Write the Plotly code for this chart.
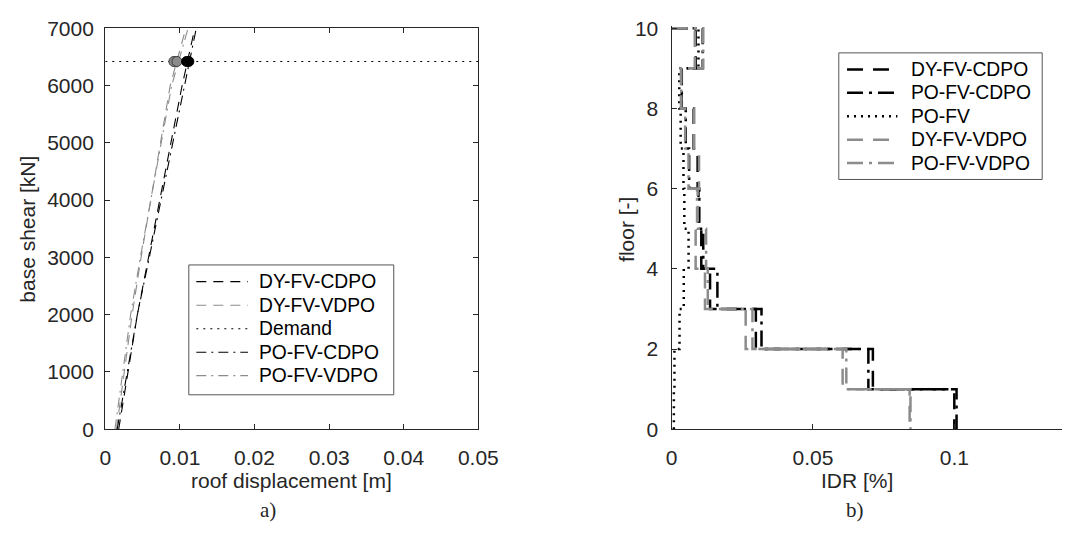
import plotly.graph_objects as go

# ---------------- pushover curves (panel a) ----------------
shear_kN = [0, 1000, 2000, 3000, 4000, 5000, 6000, 7000]
disp_dy_fv_cdpo = [0.0018, 0.0030, 0.0043, 0.0058, 0.0073, 0.0088, 0.0103, 0.0120]
disp_po_fv_cdpo = [0.0016, 0.0029, 0.0043, 0.0059, 0.0075, 0.0091, 0.0106, 0.0122]
disp_dy_fv_vdpo = [0.0015, 0.0025, 0.0036, 0.0048, 0.0061, 0.0075, 0.0087, 0.0108]
disp_po_fv_vdpo = [0.0013, 0.0023, 0.0034, 0.0047, 0.0061, 0.0076, 0.0089, 0.0111]

demand_kN = 6420
demand_disp = [0.0, 0.05]
target_disp_vdpo = [0.0092, 0.0096]
target_disp_cdpo = [0.0109, 0.0112]

# ---------------- inter-storey drift profiles (panel b) ----------------
floors = list(range(0, 11))
idr_dy_fv_cdpo = [0.1000, 0.0712, 0.0298, 0.0136, 0.0105, 0.0095, 0.0092, 0.0078, 0.0035, 0.0085]
idr_po_fv_cdpo = [0.1008, 0.0696, 0.0318, 0.0162, 0.0112, 0.0098, 0.0062, 0.0050, 0.0036, 0.0110]
idr_po_fv = [0.0008, 0.0010, 0.0028, 0.0043, 0.0060, 0.0045, 0.0042, 0.0032, 0.0027, 0.0095]
idr_dy_fv_vdpo = [0.0842, 0.0605, 0.0262, 0.0118, 0.0085, 0.0092, 0.0097, 0.0080, 0.0033, 0.0082]
idr_po_fv_vdpo = [0.0845, 0.0618, 0.0286, 0.0128, 0.0122, 0.0090, 0.0060, 0.0048, 0.0034, 0.0112]

BLACK = "#000000"
GREY = "#8c8c8c"
INK = "#262626"
FONT = "Liberation Sans, Arial, sans-serif"
SERIF = "Liberation Serif, Times New Roman, serif"

W = 1082.0
H = 535.0


def px_x(v):
    return v / W


def px_y(v):
    return 1 - v / H


def stairs(idr):
    """Storey drifts as a staircase from the roof down to the base."""
    xs, ys = [0.0], [floors[-1]]
    for k in range(len(idr) - 1, -1, -1):
        xs += [idr[k], idr[k]]
        ys += [floors[k + 1], floors[k]]
    return xs, ys


fig = go.Figure()

# panel a: capacity curves and demand (legend order)
left = [
    ("DY-FV-CDPO", disp_dy_fv_cdpo, BLACK, "10px,7px"),
    ("DY-FV-VDPO", disp_dy_fv_vdpo, GREY, "10px,7px"),
    ("Demand", None, BLACK, "2px,5px"),
    ("PO-FV-CDPO", disp_po_fv_cdpo, BLACK, "10px,5px,2px,5px"),
    ("PO-FV-VDPO", disp_po_fv_vdpo, GREY, "10px,5px,2px,5px"),
]
for name, disp, color, dash in left:
    if disp is None:
        xs, ys = demand_disp, [demand_kN, demand_kN]
    else:
        xs, ys = disp, shear_kN
    fig.add_trace(go.Scatter(
        x=xs, y=ys, mode="lines", name=name, showlegend=False,
        line=dict(color=color, width=1.1, dash=dash),
        xaxis="x", yaxis="y",
    ))

fig.add_trace(go.Scatter(
    x=target_disp_vdpo, y=[demand_kN] * len(target_disp_vdpo), mode="markers",
    marker=dict(size=10, color=GREY, line=dict(color="#3a3a3a", width=1)),
    showlegend=False, cliponaxis=False, xaxis="x", yaxis="y",
))
fig.add_trace(go.Scatter(
    x=target_disp_cdpo, y=[demand_kN] * len(target_disp_cdpo), mode="markers",
    marker=dict(size=10, color=BLACK, line=dict(color=BLACK, width=1)),
    showlegend=False, cliponaxis=False, xaxis="x", yaxis="y",
))

# panel b: drift profiles (legend order)
right = [
    ("DY-FV-CDPO", idr_dy_fv_cdpo, BLACK, "16px,10px"),
    ("PO-FV-CDPO", idr_po_fv_cdpo, BLACK, "16px,6px,3px,6px"),
    ("PO-FV", idr_po_fv, BLACK, "2px,5px"),
    ("DY-FV-VDPO", idr_dy_fv_vdpo, GREY, "16px,10px"),
    ("PO-FV-VDPO", idr_po_fv_vdpo, GREY, "16px,6px,3px,6px"),
]
for name, idr, color, dash in right:
    xs, ys = stairs(idr)
    fig.add_trace(go.Scatter(
        x=xs, y=ys, mode="lines", name=name, showlegend=False,
        line=dict(color=color, width=2.5, dash=dash),
        xaxis="x2", yaxis="y2",
    ))

axis_common = dict(
    showline=True, linecolor=INK, linewidth=1.3,
    ticks="inside", ticklen=5, tickwidth=1.3, tickcolor=INK,
    showgrid=False, zeroline=False,
    tickfont=dict(family=FONT, size=21, color=INK),
)

fig.update_layout(
    width=1082, height=535,
    margin=dict(l=0, r=0, t=0, b=0),
    paper_bgcolor="white", plot_bgcolor="white",
    font=dict(family=FONT, color=INK),
    showlegend=False,
    xaxis=dict(domain=[px_x(101.7), px_x(484)], range=[0, 0.05],
               tickvals=[0, 0.01, 0.02, 0.03, 0.04, 0.05],
               ticktext=["0", "0.01", "0.02", "0.03", "0.04", "0.05"],
               mirror="ticks", anchor="y", ticklabelstandoff=9, **axis_common),
    yaxis=dict(domain=[px_y(436), px_y(17)], range=[0, 7000],
               tickvals=[0, 1000, 2000, 3000, 4000, 5000, 6000, 7000],
               mirror="ticks", anchor="x", ticklabelstandoff=6, **axis_common),
    xaxis2=dict(domain=[px_x(682), 1.0], range=[0, 0.1381],
                tickvals=[0, 0.05, 0.1], ticktext=["0", "0.05", "0.1"],
                anchor="y2", ticklabelstandoff=9, **axis_common),
    yaxis2=dict(domain=[px_y(436), px_y(436 - 10.05 * 41.9)], range=[0, 10.05],
                tickvals=[0, 2, 4, 6, 8, 10],
                anchor="x2", ticklabelstandoff=8, **axis_common),
)


def add_legend(entries, box, sample_x, text_x, rows, width):
    x0, y0, x1, y1 = box
    fig.add_shape(type="rect", xref="paper", yref="paper",
                  x0=px_x(x0), x1=px_x(x1), y0=px_y(y1), y1=px_y(y0),
                  line=dict(color="#555555", width=1), fillcolor="white", layer="above")
    for (name, _, color, dash), yy in zip(entries, rows):
        fig.add_shape(type="line", xref="paper", yref="paper",
                      x0=px_x(sample_x[0]), x1=px_x(sample_x[1]), y0=px_y(yy), y1=px_y(yy),
                      line=dict(color=color, width=width, dash=dash), layer="above")
        fig.add_annotation(text=name, xref="paper", yref="paper",
                           x=px_x(text_x), y=px_y(yy), xanchor="left", yanchor="middle",
                           showarrow=False,
                           font=dict(family=FONT, size=19.3, color=BLACK))


add_legend(left, (187.3, 264.3, 397.3, 400.0), (195, 248), 257.5,
           [281.7, 306.4, 331.0, 355.5, 380.0], 1.1)
add_legend(right, (853.3, 42.7, 1061.7, 175.0), (861.7, 913.3), 925.5,
           [60.0, 84.5, 109.0, 133.4, 157.8], 2.5)

# axis titles and panel captions
labels = [
    ("base shear [kN]", 22, 227, -90, FONT),
    ("roof displacement [m]", 293, 490, 0, FONT),
    ("floor [-]", 636, 227, -90, FONT),
    ("IDR [%]", 872, 490, 0, FONT),
    ("a)", 268, 520, 0, SERIF),
    ("b)", 870, 520, 0, SERIF),
]
for text, x, y, angle, family in labels:
    fig.add_annotation(
        text=text, xref="paper", yref="paper",
        x=px_x(x), y=px_y(y), xanchor="center", yanchor="middle",
        textangle=angle, showarrow=False,
        font=dict(family=family, size=21, color=INK),
    )

fig.write_html("out.html")
